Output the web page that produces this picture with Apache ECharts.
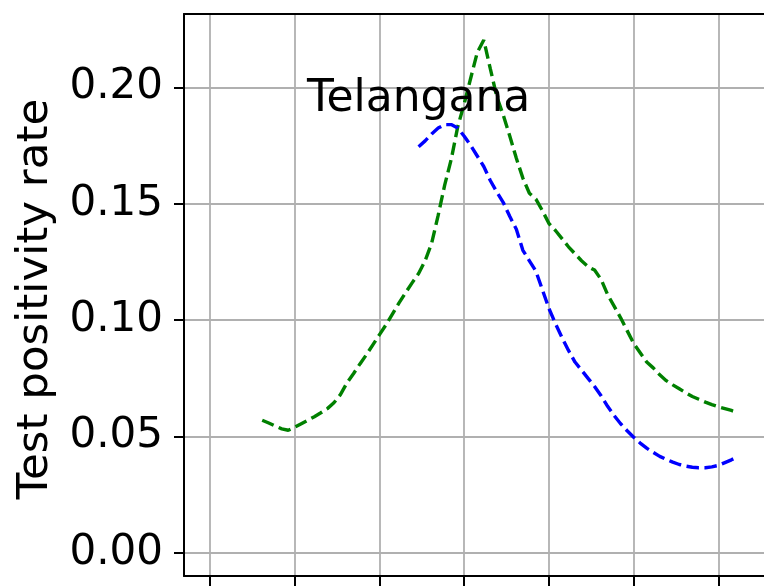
<!DOCTYPE html>
<html>
<head>
<meta charset="utf-8">
<script src="https://cdn.jsdelivr.net/npm/echarts@6/dist/echarts.min.js"></script>
<style>
  html, body { margin: 0; padding: 0; background: #fff; }
  #chart { width: 764px; height: 586px; }
</style>
</head>
<body>
<div id="chart"></div>
<script>
// Day index along the horizontal axis (one category per day)
const days = Array.from({ length: 90 }, (_, i) => String(i));

// Days carrying a tick / vertical grid line
const tickDays = [4, 17, 30, 43, 56, 69, 82];

// Y tick values
const yTicks = [0, 0.05, 0.10, 0.15, 0.20];

// Green series: first day and daily values
const greenStart = 12;
const greenValues = [
  0.0570, 0.0558, 0.0545, 0.0533, 0.0527, 0.0540, 0.0555, 0.0570, 0.0585, 0.0602,
  0.0620, 0.0645, 0.0680, 0.0730, 0.0770, 0.0812, 0.0852, 0.0895, 0.0938, 0.0980,
  0.1027, 0.1074, 0.1118, 0.1160, 0.1200, 0.1255, 0.1330, 0.1450, 0.1580, 0.1690,
  0.1830, 0.1930, 0.2040, 0.2150, 0.2203, 0.2080, 0.1960, 0.1880, 0.1790, 0.1695,
  0.1610, 0.1545, 0.1520, 0.1470, 0.1415, 0.1385, 0.1350, 0.1315, 0.1285, 0.1255,
  0.1230, 0.1215, 0.1175, 0.1110, 0.1060, 0.1010, 0.0955, 0.0900, 0.0860, 0.0820,
  0.0795, 0.0765, 0.0740, 0.0722, 0.0705, 0.0688, 0.0672, 0.0660, 0.0648, 0.0637,
  0.0628, 0.0620, 0.0612, 0.0603
];

// Blue series: first day and daily values
const blueStart = 36;
const blueValues = [
  0.1745, 0.1770, 0.1800, 0.1825, 0.1840, 0.1840, 0.1825, 0.1790, 0.1750, 0.1705,
  0.1660, 0.1600, 0.1550, 0.1505, 0.1445, 0.1390, 0.1300, 0.1255, 0.1210, 0.1130,
  0.1050, 0.0985, 0.0925, 0.0870, 0.0820, 0.0785, 0.0750, 0.0715, 0.0675, 0.0630,
  0.0590, 0.0555, 0.0525, 0.0497, 0.0472, 0.0450, 0.0432, 0.0415, 0.0402, 0.0390,
  0.0380, 0.0373, 0.0368, 0.0366, 0.0366, 0.0370, 0.0376, 0.0388, 0.0400, 0.0414
];

function place(start, values) {
  const out = days.map(() => null);
  values.forEach((v, i) => { out[start + i] = v; });
  return out;
}

const FONT = 'DejaVu Sans';
const spine = { show: true, onZero: false, lineStyle: { color: '#000', width: 2 } };
const chart = echarts.init(document.getElementById('chart'), null, { renderer: 'canvas' });

chart.setOption({
  animation: false,
  backgroundColor: '#ffffff',
  title: {
    text: 'Telangana',
    left: 302,
    top: 73,
    textStyle: { fontFamily: FONT, fontSize: 44, fontWeight: 'normal', color: '#000' }
  },
  graphic: [{
    type: 'text',
    x: 36,
    y: 299,
    rotation: Math.PI / 2,
    style: {
      text: 'Test positivity rate',
      fontFamily: FONT,
      fontSize: 43.5,
      fill: '#000',
      align: 'center',
      verticalAlign: 'middle'
    }
  }],
  grid: {
    left: 184,
    top: 14,
    width: 580,
    height: 562,
    show: false
  },
  xAxis: [
    {
      type: 'category',
      data: days,
      boundaryGap: false,
      position: 'bottom',
      axisLine: spine,
      axisTick: {
        show: true,
        inside: false,
        length: 10,
        interval: (i) => tickDays.includes(i),
        lineStyle: { color: '#000', width: 2 }
      },
      axisLabel: { show: false },
      splitLine: {
        show: true,
        interval: (i) => tickDays.includes(i),
        lineStyle: { color: '#b0b0b0', width: 1.8 }
      }
    },
    {
      // top spine only
      type: 'category',
      data: days,
      boundaryGap: false,
      position: 'top',
      axisLine: spine,
      axisTick: { show: false },
      axisLabel: { show: false },
      splitLine: { show: false }
    }
  ],
  yAxis: {
    type: 'value',
    min: -0.0099,
    max: 0.2315,
    axisLine: spine,
    axisTick: {
      show: true,
      length: 10,
      customValues: yTicks,
      lineStyle: { color: '#000', width: 2 }
    },
    axisLabel: {
      customValues: yTicks,
      margin: 21,
      fontFamily: FONT,
      fontSize: 42,
      color: '#000',
      formatter: (v) => v.toFixed(2)
    },
    splitLine: { show: true, lineStyle: { color: '#b0b0b0', width: 1.8 } }
  },
  series: [
    {
      type: 'line',
      xAxisIndex: 0,
      data: place(greenStart, greenValues),
      showSymbol: false,
      symbol: 'none',
      smooth: false,
      connectNulls: false,
      lineStyle: { color: '#008000', width: 3.4, type: [12.5, 5.5] },
      z: 3
    },
    {
      type: 'line',
      xAxisIndex: 0,
      data: place(blueStart, blueValues),
      showSymbol: false,
      symbol: 'none',
      smooth: false,
      connectNulls: false,
      lineStyle: { color: '#0000ff', width: 3.4, type: [12.5, 5.5] },
      z: 3
    }
  ]
});
</script>
</body>
</html>
